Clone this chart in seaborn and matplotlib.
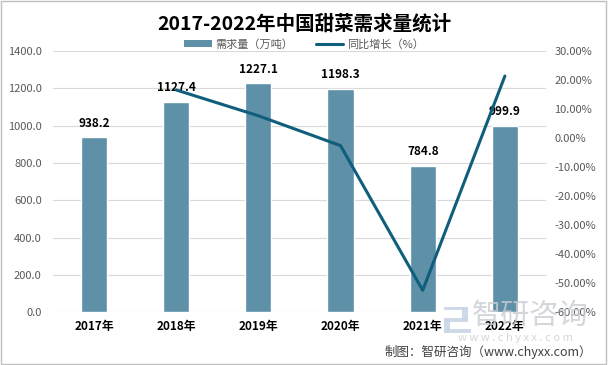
import matplotlib
matplotlib.use("Agg")
import matplotlib.pyplot as plt
import seaborn as sns
import numpy as np
import pandas as pd
from matplotlib.patches import Patch, Rectangle
from matplotlib.lines import Line2D
from matplotlib.ticker import FuncFormatter, MultipleLocator

years = ["2017年", "2018年", "2019年", "2020年", "2021年", "2022年"]
demand = [938.2, 1127.4, 1227.1, 1198.3, 784.8, 999.9]
growth_years = ["2018年", "2019年", "2020年", "2021年", "2022年"]
growth = [16.6, 7.7, -2.6, -52.5, 21.4]

sns.set_theme(style="white")
plt.rcParams['font.family'] = ['Noto Sans CJK SC', 'DejaVu Sans']

bar_color = "#5E90A8"
line_color = "#0F5E7C"
tick_color = "#595959"

fig = plt.figure(figsize=(6.08, 3.65), dpi=100)
ax = fig.add_axes([0.087, 0.145, 0.811, 0.715])

df = pd.DataFrame({"year": years, "demand": demand})
sns.barplot(data=df, x="year", y="demand", color=bar_color, width=0.32,
            saturation=1, ax=ax)
ax.set_ylim(0, 1400)
ax.set_xlim(-0.5, len(years) - 0.5)
ax.yaxis.set_major_locator(MultipleLocator(200))
ax.yaxis.set_major_formatter(FuncFormatter(lambda v, p: f"{v:.1f}"))
ax.grid(axis="y", color="#D9D9D9", linewidth=0.8)
ax.set_axisbelow(True)
ax.set_xlabel("")
ax.set_ylabel("")
for s in ax.spines.values():
    s.set_visible(False)
ax.tick_params(axis="y", length=0, labelsize=8, labelcolor=tick_color, pad=8)
ax.tick_params(axis="x", length=0, labelsize=8.5, pad=6)
for lbl in ax.get_xticklabels():
    lbl.set_fontweight("bold")
    lbl.set_color("black")

for i, v in enumerate(demand):
    ax.text(i, v + 40, f"{v:.1f}", ha="center", va="bottom", fontsize=8.5,
            fontweight="bold", color="black")

ax2 = ax.twinx()
pos = [years.index(y) for y in growth_years]
sns.lineplot(x=pos, y=growth, color=line_color, linewidth=2.2, ax=ax2)
ax2.set_ylim(-60, 30)
ax2.yaxis.set_major_locator(MultipleLocator(10))
ax2.yaxis.set_major_formatter(FuncFormatter(lambda v, p: f"{v:.2f}%"))
ax2.tick_params(axis="y", length=0, labelsize=8, labelcolor=tick_color, pad=6)
for s in ax2.spines.values():
    s.set_visible(False)
ax2.set_ylabel("")
ax2.grid(False)
ax.set_xlim(-0.5, len(years) - 0.5)

fig.text(0.5, 0.935, "2017-2022年中国甜菜需求量统计", ha="center", va="center",
         fontsize=14, fontweight="bold", color="black")

handles = [Patch(facecolor=bar_color, edgecolor="none"),
           Line2D([0], [0], color=line_color, linewidth=2.2)]
leg = fig.legend(handles, ["需求量（万吨）", "同比增长（%）"], loc="center",
                 bbox_to_anchor=(0.5, 0.878), ncol=2, frameon=False,
                 fontsize=8, handlelength=2.5, handleheight=0.6,
                 columnspacing=2.0, handletextpad=0.3)
for t in leg.get_texts():
    t.set_color(tick_color)

# watermark
logo_c = "#C9D6E6"
for (x0, y0, w, h) in [(0.730, 0.150, 0.040, 0.010), (0.760, 0.120, 0.010, 0.040),
                       (0.730, 0.118, 0.040, 0.010), (0.730, 0.090, 0.010, 0.035),
                       (0.730, 0.088, 0.045, 0.010)]:
    fig.patches.append(Rectangle((x0, y0), w, h, transform=fig.transFigure,
                                 facecolor=logo_c, edgecolor="none", alpha=0.9))
fig.text(0.872, 0.134, "智研咨询", ha="center", va="center", fontsize=21,
         color="#C8CCD2", alpha=0.8)
fig.text(0.847, 0.074, "w w w . c h y x x . c o m", ha="center", va="center",
         fontsize=8, color="#C8CCD2", alpha=0.8)
fig.text(0.974, 0.036, "制图：智研咨询（www.chyxx.com）", ha="right", va="center",
         fontsize=9, color="#404040")

fig.patches.append(Rectangle((0.002, 0.003), 0.995, 0.994, transform=fig.transFigure,
                             fill=False, edgecolor="#BFBFBF", linewidth=1))

fig.savefig("out.png", dpi=100)
